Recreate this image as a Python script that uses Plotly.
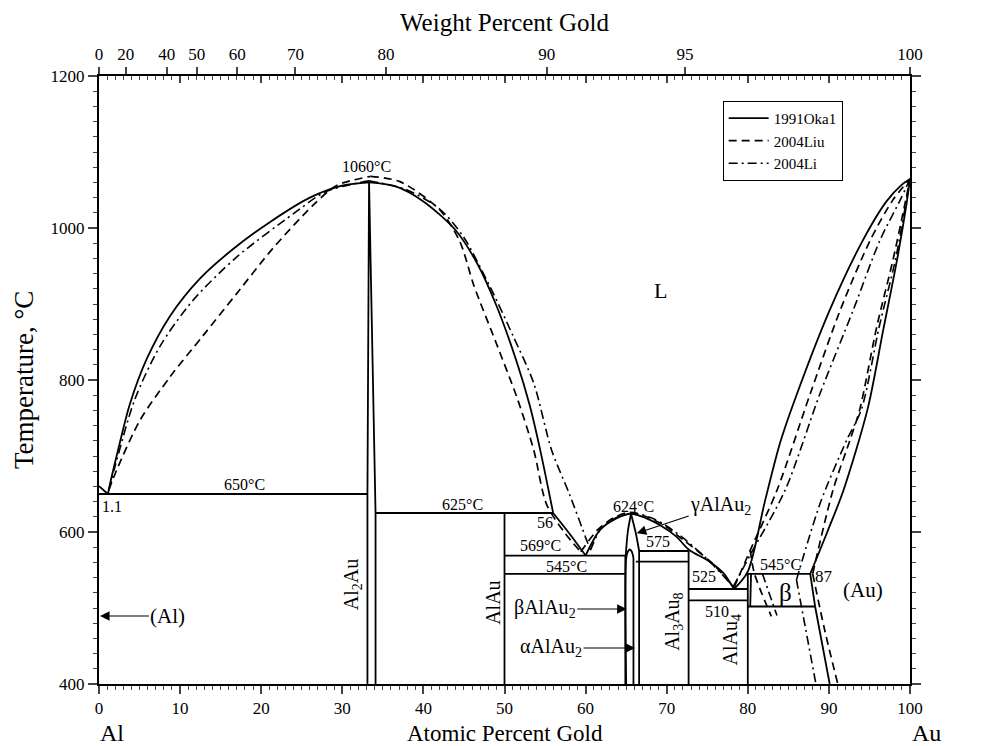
import plotly.graph_objects as go

# ---------------- data (atomic % Au, temperature degC) ----------------
# 1991Oka1 (solid)
oka_liq_al_x = [0.0, 1.1]
oka_liq_al_T = [660.452, 650]
oka_liq_l_x = [1.1, 1.5, 2.4, 3.8, 5.9, 8.75, 12.5, 16.5, 21.1, 26.0, 30.1, 33.3]
oka_liq_l_T = [650, 670, 710, 768, 828, 884, 934, 972, 1008, 1040, 1056, 1060]
oka_liq_r_x = [33.3, 36.5, 40.0, 43.9, 46.6, 49.0, 51.5, 53.1, 54.4, 56.0]
oka_liq_r_T = [1060, 1055, 1035, 998, 954, 898, 824, 767, 708, 625]
oka_liq_r2_x = [56.0, 58.0, 60.0]
oka_liq_r2_T = [625, 598, 569]
oka_liq_m_x = [60.0, 61.8, 63.8, 65.6, 67.5, 69.2, 71.2, 72.7, 75.3, 77.0, 78.3]
oka_liq_m_T = [569, 603, 618, 624, 618, 609, 594, 577, 561, 546, 525]
oka_liq_au_x = [78.3, 80.0, 82.1, 84.0, 86.0, 90.1, 94.2, 97.1, 99.0, 100.0]
oka_liq_au_T = [525, 548, 640, 718, 780, 892, 984, 1035, 1057, 1064.43]
oka_sol_au_x = [87.7, 89.8, 91.8, 94.8, 96.7, 98.35, 99.55, 100.0]
oka_sol_au_T = [545, 600, 655, 763, 866, 955, 1030, 1064.43]
oka_solv_au_x = [87.7, 88.3, 90.1]
oka_solv_au_T = [545, 502, 400]
al2au_x = [33.1, 33.1, 33.3, 34.1, 34.1]
al2au_T = [400, 650, 1060, 625, 400]
dome_x = [65.0, 65.0, 65.2, 65.45, 65.7, 65.9]
dome_T = [400, 565, 574, 577, 574, 566]
gam_l_x = [65.6, 65.2, 64.95]
gam_l_T = [624, 600, 569]
gam_r_x = [65.6, 66.2, 66.6]
gam_r_T = [624, 598, 575]
beta_l_x = [80.4, 80.3]
beta_l_T = [545, 502]

iso_T = [650, 625, 569, 545, 575, 561, 525, 510, 545, 502]
iso_x0 = [0.0, 34.1, 50.0, 50.0, 66.6, 66.2, 72.7, 72.7, 79.9, 80.0]
iso_x1 = [33.1, 56.0, 65.0, 65.0, 72.7, 72.7, 80.0, 80.0, 87.7, 88.3]

vert_x = [50.0, 64.9, 65.9, 66.6, 72.7, 80.0]
vert_T0 = [400, 400, 400, 400, 400, 400]
vert_T1 = [625, 569, 566, 575, 575, 545]

# 2004Liu (dashed)
liu_liq_l_x = [1.2, 2.2, 5.05, 8.75, 12.8, 17.0, 21.5, 26.4, 29.3, 33.5]
liu_liq_l_T = [655, 682, 747, 804, 858, 914, 974, 1030, 1056, 1068]
liu_liq_r_x = [33.5, 37.1, 42.0, 44.5, 46.2, 49.0, 51.5, 53.6, 55.2, 57.5, 59.4]
liu_liq_r_T = [1068, 1061, 1024, 982, 925, 848, 778, 708, 636, 598, 574]
liu_liq_m_x = [59.4, 61.5, 63.5, 65.5, 67.5, 69.5, 72.0, 75.5, 78.3]
liu_liq_m_T = [574, 603, 619, 626, 620, 610, 590, 560, 527]
liu_liq_au_x = [78.3, 80.3, 83.6, 87.7, 91.4, 95.1, 97.9, 100.0]
liu_liq_au_T = [527, 576, 655, 782, 892, 984, 1037, 1064.43]
liu_sol_au_x = [88.0, 90.5, 92.6, 93.8, 95.9, 97.9, 99.4, 100.0]
liu_sol_au_T = [545, 655, 721, 761, 870, 958, 1033, 1064.43]
liu_solv_au_x = [88.0, 89.5, 91.1]
liu_solv_au_T = [545, 470, 400]
liu_beta_x = [80.3, 80.8, 82.9]
liu_beta_T = [576, 546, 489]

# 2004Li (dash-dot)
li_liq_l_x = [1.2, 1.97, 4.4, 7.5, 11.6, 17.0, 24.0, 28.0, 33.3]
li_liq_l_T = [655, 686, 774, 844, 905, 962, 1019, 1048, 1062]
li_liq_r_x = [33.3, 38.0, 42.0, 44.9, 48.2, 51.1, 53.6, 55.8, 58.0, 60.1, 60.6]
li_liq_r_T = [1062, 1050, 1025, 989, 923, 857, 796, 708, 650, 590, 576]
li_liq_m_x = [60.6, 62.0, 64.0, 65.8, 68.0, 70.0, 72.5, 75.5, 78.2]
li_liq_m_T = [576, 606, 620, 625, 619, 608, 588, 559, 528]
li_liq_au_x = [78.2, 80.3, 84.6, 88.9, 93.0, 96.3, 98.8, 100.0]
li_liq_au_T = [528, 570, 655, 782, 892, 984, 1037, 1064.43]
li_sol_au_x = [86.0, 89.0, 92.2, 94.0, 96.2, 98.2, 99.5, 100.0]
li_sol_au_T = [537, 640, 721, 761, 870, 958, 1033, 1064.43]
li_solv_au_x = [86.0, 88.4]
li_solv_au_T = [537, 400]
li_beta_x = [81.8, 83.6]
li_beta_T = [545, 490]

# top axis: weight percent gold
wt_ticks = [0, 20, 40, 50, 60, 70, 80, 90, 95, 100]
M_AU, M_AL = 196.967, 26.982


def wt_to_at(w):
    if w >= 100:
        return 100.0
    na = w / M_AU
    nb = (100 - w) / M_AL
    return 100 * na / (na + nb)


SERIF = "Liberation Serif"
SOLID = dict(color="black", width=1.8)
DASH = dict(color="black", width=1.7, dash="8px,5px")
DASHDOT = dict(color="black", width=1.6, dash="9px,4px,2px,4px")

fig = go.Figure()


def add(x, y, line, spline=True):
    fig.add_trace(go.Scatter(
        x=x, y=y, mode="lines", line=dict(**line, shape="spline" if spline else "linear",
                                          smoothing=0.8 if spline else None),
        showlegend=False, hoverinfo="skip"))


for xs, ts in [(liu_liq_l_x, liu_liq_l_T), (liu_liq_r_x, liu_liq_r_T), (liu_liq_m_x, liu_liq_m_T),
               (liu_liq_au_x, liu_liq_au_T), (liu_sol_au_x, liu_sol_au_T),
               (liu_solv_au_x, liu_solv_au_T), (liu_beta_x, liu_beta_T)]:
    add(xs, ts, DASH)
for xs, ts in [(li_liq_l_x, li_liq_l_T), (li_liq_r_x, li_liq_r_T), (li_liq_m_x, li_liq_m_T),
               (li_liq_au_x, li_liq_au_T), (li_sol_au_x, li_sol_au_T),
               (li_solv_au_x, li_solv_au_T), (li_beta_x, li_beta_T)]:
    add(xs, ts, DASHDOT)
for xs, ts in [(oka_liq_l_x, oka_liq_l_T), (oka_liq_r_x, oka_liq_r_T), (oka_liq_r2_x, oka_liq_r2_T),
               (oka_liq_m_x, oka_liq_m_T), (oka_liq_au_x, oka_liq_au_T), (oka_sol_au_x, oka_sol_au_T),
               (gam_l_x, gam_l_T), (gam_r_x, gam_r_T), (dome_x, dome_T)]:
    add(xs, ts, SOLID)
for xs, ts in [(oka_liq_al_x, oka_liq_al_T), (oka_solv_au_x, oka_solv_au_T), (al2au_x, al2au_T),
               (beta_l_x, beta_l_T)]:
    add(xs, ts, SOLID, spline=False)
for t, a, b in zip(iso_T, iso_x0, iso_x1):
    add([a, b], [t, t], SOLID, spline=False)
for xv, t0, t1 in zip(vert_x, vert_T0, vert_T1):
    add([xv, xv], [t0, t1], SOLID, spline=False)

for name, ln in [("1991Oka1", SOLID), ("2004Liu", DASH), ("2004Li", DASHDOT)]:
    fig.add_trace(go.Scatter(x=[None], y=[None], mode="lines", line=ln, name=name))

fig.add_trace(go.Scatter(x=[0, 100], y=[400, 400], xaxis="x2", mode="lines",
                         line=dict(width=0), opacity=0, showlegend=False, hoverinfo="skip"))
fig.add_trace(go.Scatter(x=[0, 100], y=[400, 400], xaxis="x3", mode="lines",
                         line=dict(width=0), opacity=0, showlegend=False, hoverinfo="skip"))

ann = []


def txt(x, y, s, size=16, **kw):
    d = dict(x=x, y=y, text=s, showarrow=False, font=dict(family=SERIF, size=size, color="black"))
    d.update(kw)
    ann.append(d)


txt(33.0, 1081, "1060°C")
txt(17.9, 662, "650°C")
txt(1.6, 634, "1.1")
txt(-0.7, 660, "<b>660.452°C</b>", xanchor="right")
txt(101.4, 1056, "<b>1064.43°C</b>", xanchor="left")
txt(44.8, 636, "625°C")
txt(55.0, 612, "56")
txt(54.4, 582, "569°C")
txt(57.6, 554, "545°C")
txt(65.9, 633, "624°C")
txt(68.9, 587, "575")
txt(74.6, 541, "525")
txt(76.2, 495, "510")
txt(84.0, 557, "545°C")
txt(84.6, 521, "β", size=25)
txt(89.4, 541, "87", size=17)
txt(94.2, 524, "(Au)", size=21)
txt(69.2, 918, "L", size=22)
txt(48.6, 507, "AlAu", size=20, textangle=-90)
txt(70.8, 482, "Al<sub>3</sub>Au<sub>8</sub>", size=20, textangle=-90)
txt(78.0, 458, "AlAu<sub>4</sub>", size=20, textangle=-90)
txt(31.2, 530, "Al<sub>2</sub>Au", size=20, textangle=-90)

arrow = dict(showarrow=True, arrowhead=2, arrowsize=1.6, arrowwidth=1.2, arrowcolor="black")
txt(0.12, 489.5, "(Al)", size=21, ax=68, ay=0, **arrow)
txt(65.07, 498.7, "βAlAu<sub>2</sub>", size=20, ax=-82, ay=0, **arrow)
txt(66.1, 447.4, "αAlAu<sub>2</sub>", size=20, ax=-84, ay=0, **arrow)
txt(66.3, 598.3, "γAlAu<sub>2</sub>", size=20, ax=84, ay=-28, **arrow)

pc = dict(xref="paper", yref="paper", xanchor="center", yanchor="middle")
txt(0.5, 1.0, "Weight Percent Gold", size=25, yshift=54, **pc)
txt(0.5, 0.0, "Atomic Percent Gold", size=23, yshift=-49, **pc)
txt(0.0166, 0.0, "Al", size=24, yshift=-49, **pc)
txt(1.02, 0.0, "Au", size=24, yshift=-49, **pc)
txt(0.0, 0.5, "Temperature, °C", size=27, textangle=-90, xshift=-75, **pc)

axfont = dict(family=SERIF, size=17, color="black")
fig.update_layout(
    width=987, height=738,
    margin=dict(l=91, r=85, t=68, b=62),
    paper_bgcolor="white", plot_bgcolor="white",
    font=dict(family=SERIF, color="black"),
    annotations=ann,
    showlegend=True,
    legend=dict(x=0.769, y=0.959, xanchor="left", yanchor="top",
                bordercolor="black", borderwidth=1, bgcolor="white",
                font=dict(family=SERIF, size=15, color="black"),
                tracegroupgap=0, itemwidth=40),
    xaxis=dict(range=[0, 100], tickmode="linear", tick0=0, dtick=10, ticks="outside", ticklen=8,
               tickwidth=1.5, showline=True, linecolor="black", linewidth=2, showgrid=False,
               zeroline=False, tickfont=axfont,
               minor=dict(dtick=1, ticklen=4, tickwidth=1, ticks="outside", showgrid=False)),
    xaxis2=dict(range=[0, 100], overlaying="x", side="top", tickmode="array",
                tickvals=[wt_to_at(w) for w in wt_ticks], ticktext=[str(w) for w in wt_ticks],
                ticks="outside", ticklen=7, tickwidth=1.5, showline=True, linecolor="black",
                linewidth=2, showgrid=False, zeroline=False, tickfont=axfont),
    xaxis3=dict(range=[0, 100], overlaying="x", side="top", tickmode="linear", tick0=0, dtick=10,
                ticks="inside", ticklen=7, tickwidth=1.5, showticklabels=False, showline=False,
                showgrid=False, zeroline=False,
                minor=dict(dtick=1, ticklen=4, tickwidth=1, ticks="inside", showgrid=False)),
    yaxis=dict(range=[400, 1200], tickmode="linear", tick0=400, dtick=200, ticks="outside",
               ticklen=9, tickwidth=1.5, showline=True, linecolor="black", linewidth=2,
               mirror="ticks", showgrid=False, zeroline=False, tickfont=axfont,
               minor=dict(dtick=20, ticklen=4, tickwidth=1, ticks="outside", showgrid=False)),
)

fig.write_html("out.html")
